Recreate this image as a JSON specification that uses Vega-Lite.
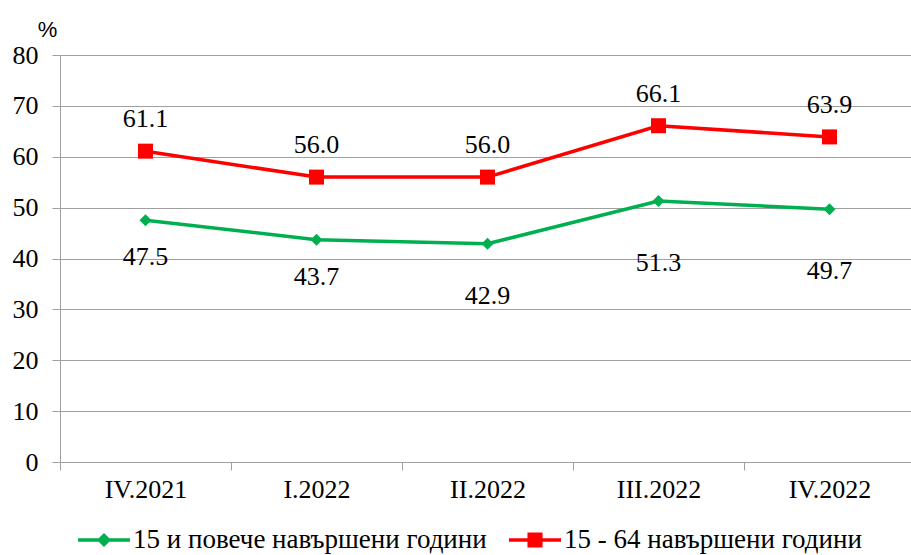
{
  "$schema": "https://vega.github.io/schema/vega-lite/v6.json",
  "width": 855,
  "height": 407,
  "autosize": {"type": "none"},
  "padding": {"left": 60, "top": 55, "right": 0, "bottom": 93},
  "background": "white",
  "config": {
    "view": {"stroke": null},
    "font": "Times New Roman",
    "text": {"font": "Times New Roman"},
    "axis": {"labelFont": "Times New Roman"},
    "legend": {"labelFont": "Times New Roman"}
  },
  "data": {
    "values": [
      {"q": "IV.2021", "s": "15 и повече навършени години", "v": 47.5},
      {"q": "I.2022", "s": "15 и повече навършени години", "v": 43.7},
      {"q": "II.2022", "s": "15 и повече навършени години", "v": 42.9},
      {"q": "III.2022", "s": "15 и повече навършени години", "v": 51.3},
      {"q": "IV.2022", "s": "15 и повече навършени години", "v": 49.7},
      {"q": "IV.2021", "s": "15 - 64 навършени години", "v": 61.1},
      {"q": "I.2022", "s": "15 - 64 навършени години", "v": 56.0},
      {"q": "II.2022", "s": "15 - 64 навършени години", "v": 56.0},
      {"q": "III.2022", "s": "15 - 64 навършени години", "v": 66.1},
      {"q": "IV.2022", "s": "15 - 64 навършени години", "v": 63.9}
    ]
  },
  "encoding": {
    "x": {
      "field": "q", "type": "nominal", "bandPosition": 0.5,
      "sort": ["IV.2021", "I.2022", "II.2022", "III.2022", "IV.2022"],
      "scale": {"type": "band", "paddingInner": 0, "paddingOuter": 0},
      "axis": {
        "title": null, "labelAngle": 0, "tickBand": "extent",
        "domainColor": "#a0a0a0", "tickColor": "#a0a0a0", "tickSize": 8,
        "labelFont": "Times New Roman", "labelFontSize": 26, "labelColor": "#000000",
        "labelPadding": 6, "grid": false
      }
    },
    "y": {
      "field": "v", "type": "quantitative",
      "scale": {"domain": [0, 80], "nice": false},
      "axis": {
        "values": [0, 10, 20, 30, 40, 50, 60, 70, 80],
        "grid": true, "gridColor": "#a0a0a0", "gridWidth": 1,
        "domainColor": "#a0a0a0", "tickColor": "#a0a0a0", "tickSize": 8,
        "labelFont": "Times New Roman", "labelFontSize": 26, "labelColor": "#000000",
        "labelPadding": 14,
        "title": "%", "titleAngle": 0, "titleAlign": "center", "titleBaseline": "alphabetic",
        "titleX": -13, "titleY": -19, "titleFont": "Liberation Sans", "titleFontSize": 22,
        "titleFontWeight": "normal", "titleColor": "#000000"
      }
    }
  },
  "layer": [
    {
      "mark": {"type": "line", "strokeWidth": 3.5},
      "encoding": {
        "color": {
          "field": "s", "type": "nominal",
          "scale": {"domain": ["15 и повече навършени години", "15 - 64 навършени години"], "range": ["#00b050", "#ff0000"]},
          "legend": {
            "title": null, "orient": "none", "direction": "horizontal",
            "legendX": 18, "legendY": 459,
            "symbolSize": 2704, "symbolStrokeWidth": 0,
            "labelFont": "Times New Roman", "labelFontSize": 27, "labelColor": "#000000",
            "labelOffset": 3, "columnPadding": 22,
            "labelLimit": 500,
            "encode": {
              "symbols": {
                "update": {
                  "shape": {"signal": "datum.label === '15 - 64 навършени години' ? 'M-1,-0.067H1V0.067H-1Z M-0.29,-0.29H0.29V0.29H-0.29Z' : 'M-1,-0.067H1V0.067H-1Z M0,-0.27L0.27,0L0,0.27L-0.27,0Z'"},
                  "fill": {"signal": "datum.label === '15 - 64 навършени години' ? '#ff0000' : '#00b050'"},
                  "fillOpacity": {"value": 1},
                  "strokeWidth": {"value": 0}
                }
              }
            }
          }
        }
      }
    },
    {
      "transform": [{"filter": "datum.s === '15 и повече навършени години'"}],
      "mark": {"type": "point", "shape": "diamond", "size": 144, "filled": true, "opacity": 1, "color": "#00b050"}
    },
    {
      "transform": [{"filter": "datum.s === '15 - 64 навършени години'"}],
      "mark": {"type": "point", "shape": "square", "size": 225, "filled": true, "opacity": 1, "color": "#ff0000"}
    },
    {
      "transform": [{"filter": "datum.s === '15 - 64 навършени години'"}],
      "mark": {"type": "text", "dy": -32, "font": "Times New Roman", "fontSize": 26, "color": "#000000", "baseline": "middle"},
      "encoding": {"text": {"field": "v", "type": "quantitative", "format": ".1f"}}
    },
    {
      "transform": [{"filter": "datum.s === '15 и повече навършени години' && (datum.q === 'IV.2021' || datum.q === 'I.2022')"}],
      "mark": {"type": "text", "dy": 37, "font": "Times New Roman", "fontSize": 26, "color": "#000000", "baseline": "middle"},
      "encoding": {"text": {"field": "v", "type": "quantitative", "format": ".1f"}}
    },
    {
      "transform": [{"filter": "datum.s === '15 и повече навършени години' && datum.q === 'II.2022'"}],
      "mark": {"type": "text", "dy": 52, "font": "Times New Roman", "fontSize": 26, "color": "#000000", "baseline": "middle"},
      "encoding": {"text": {"field": "v", "type": "quantitative", "format": ".1f"}}
    },
    {
      "transform": [{"filter": "datum.s === '15 и повече навършени години' && (datum.q === 'III.2022' || datum.q === 'IV.2022')"}],
      "mark": {"type": "text", "dy": 62, "font": "Times New Roman", "fontSize": 26, "color": "#000000", "baseline": "middle"},
      "encoding": {"text": {"field": "v", "type": "quantitative", "format": ".1f"}}
    }
  ]
}
